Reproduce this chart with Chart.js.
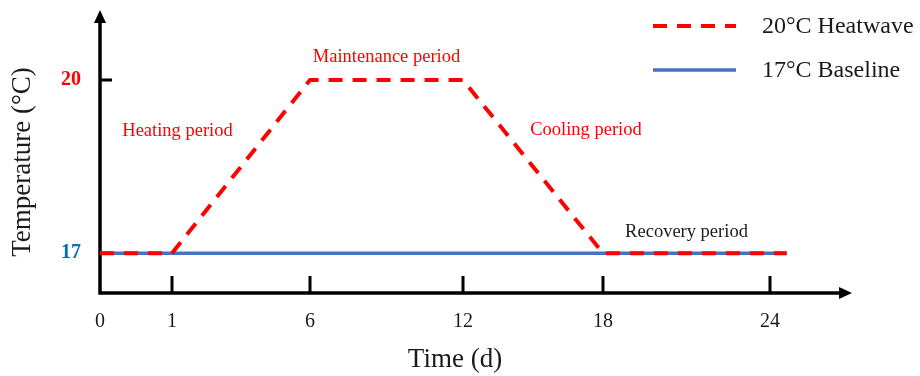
<!DOCTYPE html>
<html>
<head>
<meta charset="utf-8">
<script src="https://cdn.jsdelivr.net/npm/chart.js@4"></script>
<style>
  body { margin: 0; background: #fff; }
  canvas { display: block; }
</style>
</head>
<body>
<canvas id="heatwaveChart" width="920" height="376"></canvas>
<script>
// Temperature schedule of the two treatments (time in days, temperature in °C)
const heatwaveDays = [0, 1, 6, 12, 18, 24.6];
const heatwaveTemps = [17, 17, 20, 20, 17, 17];
const baselineDays = [0, 24.6];
const baselineTemps = [17, 17];

const timeTicks = [0, 1, 6, 12, 18, 24];
const tempTicks = [17, 20];
const seriesNames = ['20°C Heatwave', '17°C Baseline'];
const phaseNames = ['Heating period', 'Maintenance period', 'Cooling period', 'Recovery period'];

const SERIF = "'Liberation Serif', 'Times New Roman', serif";
const RED = '#ff0000';
const BLUE = '#4472c4';

// Schematic time axis: each phase gets its own stretch of the axis,
// so days are mapped piecewise instead of linearly.
class PhaseScale extends Chart.LinearScale {
  static id = 'phase';
  static defaults = Chart.LinearScale.defaults;

  static knots = [0, 1, 6, 12, 18, 24, 25.44];
  static stops = [0, 72, 210, 363, 503, 670, 710].map(v => v / 710);

  toDecimal(v) {
    const k = PhaseScale.knots, s = PhaseScale.stops;
    let i = 0;
    while (i < k.length - 2 && v > k[i + 1]) i++;
    return s[i] + (v - k[i]) / (k[i + 1] - k[i]) * (s[i + 1] - s[i]);
  }

  fromDecimal(d) {
    const k = PhaseScale.knots, s = PhaseScale.stops;
    let i = 0;
    while (i < s.length - 2 && d > s[i + 1]) i++;
    return k[i] + (d - s[i]) / (s[i + 1] - s[i]) * (k[i + 1] - k[i]);
  }

  getPixelForValue(value) {
    return value === null ? NaN : this.getPixelForDecimal(this.toDecimal(value));
  }

  getValueForPixel(pixel) {
    return this.fromDecimal(this.getDecimalForPixel(pixel));
  }
}
Chart.register(PhaseScale);

// Axes with arrow heads and inward tick marks
const sketchAxes = {
  id: 'sketchAxes',
  beforeDatasetsDraw(chart) {
    const { ctx, chartArea, scales: { x, y } } = chart;
    const ox = x.getPixelForValue(0);
    const oy = chartArea.bottom;
    const yTip = 10;
    const xTip = chart.width - 68;

    ctx.save();
    ctx.strokeStyle = '#000';
    ctx.fillStyle = '#000';
    ctx.lineWidth = 3.5;

    ctx.beginPath();
    ctx.moveTo(ox, oy + 1.75);
    ctx.lineTo(ox, yTip + 10);
    ctx.moveTo(ox - 1.75, oy);
    ctx.lineTo(xTip - 10, oy);
    ctx.stroke();

    ctx.beginPath();
    ctx.moveTo(ox, yTip);
    ctx.lineTo(ox - 6, yTip + 13);
    ctx.lineTo(ox + 6, yTip + 13);
    ctx.closePath();
    ctx.fill();

    ctx.beginPath();
    ctx.moveTo(xTip, oy);
    ctx.lineTo(xTip - 13, oy - 6);
    ctx.lineTo(xTip - 13, oy + 6);
    ctx.closePath();
    ctx.fill();

    ctx.lineWidth = 3;
    ctx.beginPath();
    timeTicks.filter(d => d > 0).forEach(d => {
      const px = x.getPixelForValue(d);
      ctx.moveTo(px, oy);
      ctx.lineTo(px, oy - 17);
    });
    tempTicks.forEach(t => {
      const py = y.getPixelForValue(t);
      ctx.moveTo(ox, py);
      ctx.lineTo(ox + 12, py);
    });
    ctx.stroke();
    ctx.restore();
  }
};

// Phase names placed in data coordinates, plus the legend in the corner
const sketchLabels = {
  id: 'sketchLabels',
  afterDraw(chart) {
    const { ctx, scales: { x, y } } = chart;
    const anchors = [
      { day: 1.2, temp: 19.12, color: RED },
      { day: 9.0, temp: 20.4, color: RED },
      { day: 17.27, temp: 19.13, color: RED },
      { day: 21.0, temp: 17.36, color: '#1a1a1a' }
    ];
    ctx.save();
    ctx.font = '18.5px ' + SERIF;
    ctx.textAlign = 'center';
    ctx.textBaseline = 'middle';
    phaseNames.forEach((name, i) => {
      const a = anchors[i];
      ctx.fillStyle = a.color;
      ctx.fillText(name, x.getPixelForValue(a.day), y.getPixelForValue(a.temp));
    });

    ctx.font = '24px ' + SERIF;
    ctx.textAlign = 'left';
    chart.data.datasets.forEach((ds, i) => {
      const rowY = 26 + i * 44;
      ctx.strokeStyle = ds.borderColor;
      ctx.lineWidth = ds.borderWidth;
      ctx.setLineDash(ds.borderDash || []);
      ctx.beginPath();
      ctx.moveTo(653, rowY);
      ctx.lineTo(736, rowY);
      ctx.stroke();
      ctx.fillStyle = '#1a1a1a';
      ctx.fillText(ds.label, 762, rowY + 1);
    });
    ctx.restore();
  }
};

new Chart(document.getElementById('heatwaveChart'), {
  type: 'line',
  data: {
    datasets: [
      {
        label: seriesNames[0],
        data: heatwaveDays.map((d, i) => ({ x: d, y: heatwaveTemps[i] })),
        borderColor: RED,
        borderWidth: 4,
        borderDash: [14, 10],
        borderJoinStyle: 'miter',
        pointRadius: 0,
        tension: 0
      },
      {
        label: seriesNames[1],
        data: baselineDays.map((d, i) => ({ x: d, y: baselineTemps[i] })),
        borderColor: BLUE,
        borderWidth: 3.5,
        pointRadius: 0,
        tension: 0
      }
    ]
  },
  options: {
    responsive: false,
    animation: false,
    layout: { padding: { left: 0, top: 31, right: 110, bottom: 0 } },
    plugins: { legend: { display: false }, tooltip: { enabled: false } },
    scales: {
      x: {
        type: 'phase',
        min: 0,
        max: 25.44,
        afterBuildTicks: scale => { scale.ticks = timeTicks.map(v => ({ value: v })); },
        afterFit: scale => { scale.height = 83; },
        grid: { display: false, drawTicks: false },
        border: { display: false },
        ticks: {
          autoSkip: false,
          maxRotation: 0,
          padding: 17,
          color: '#1a1a1a',
          font: { family: SERIF, size: 20 }
        },
        title: {
          display: true,
          text: 'Time (d)',
          color: '#1a1a1a',
          font: { family: SERIF, size: 27 },
          padding: { top: 4, bottom: 0 }
        }
      },
      y: {
        min: 16.31,
        max: 20.85,
        afterBuildTicks: scale => { scale.ticks = tempTicks.map(v => ({ value: v })); },
        afterFit: scale => { scale.width = 100; },
        grid: { display: false, drawTicks: false },
        border: { display: false },
        ticks: {
          padding: 19,
          color: ctx => ctx.tick.value === 20 ? RED : '#0070c0',
          font: { family: SERIF, size: 20, weight: 'bold' }
        },
        title: {
          display: true,
          text: 'Temperature (°C)',
          color: '#1a1a1a',
          font: { family: SERIF, size: 27 },
          padding: { top: 7, bottom: 0 }
        }
      }
    }
  },
  plugins: [sketchAxes, sketchLabels]
});
</script>
</body>
</html>
